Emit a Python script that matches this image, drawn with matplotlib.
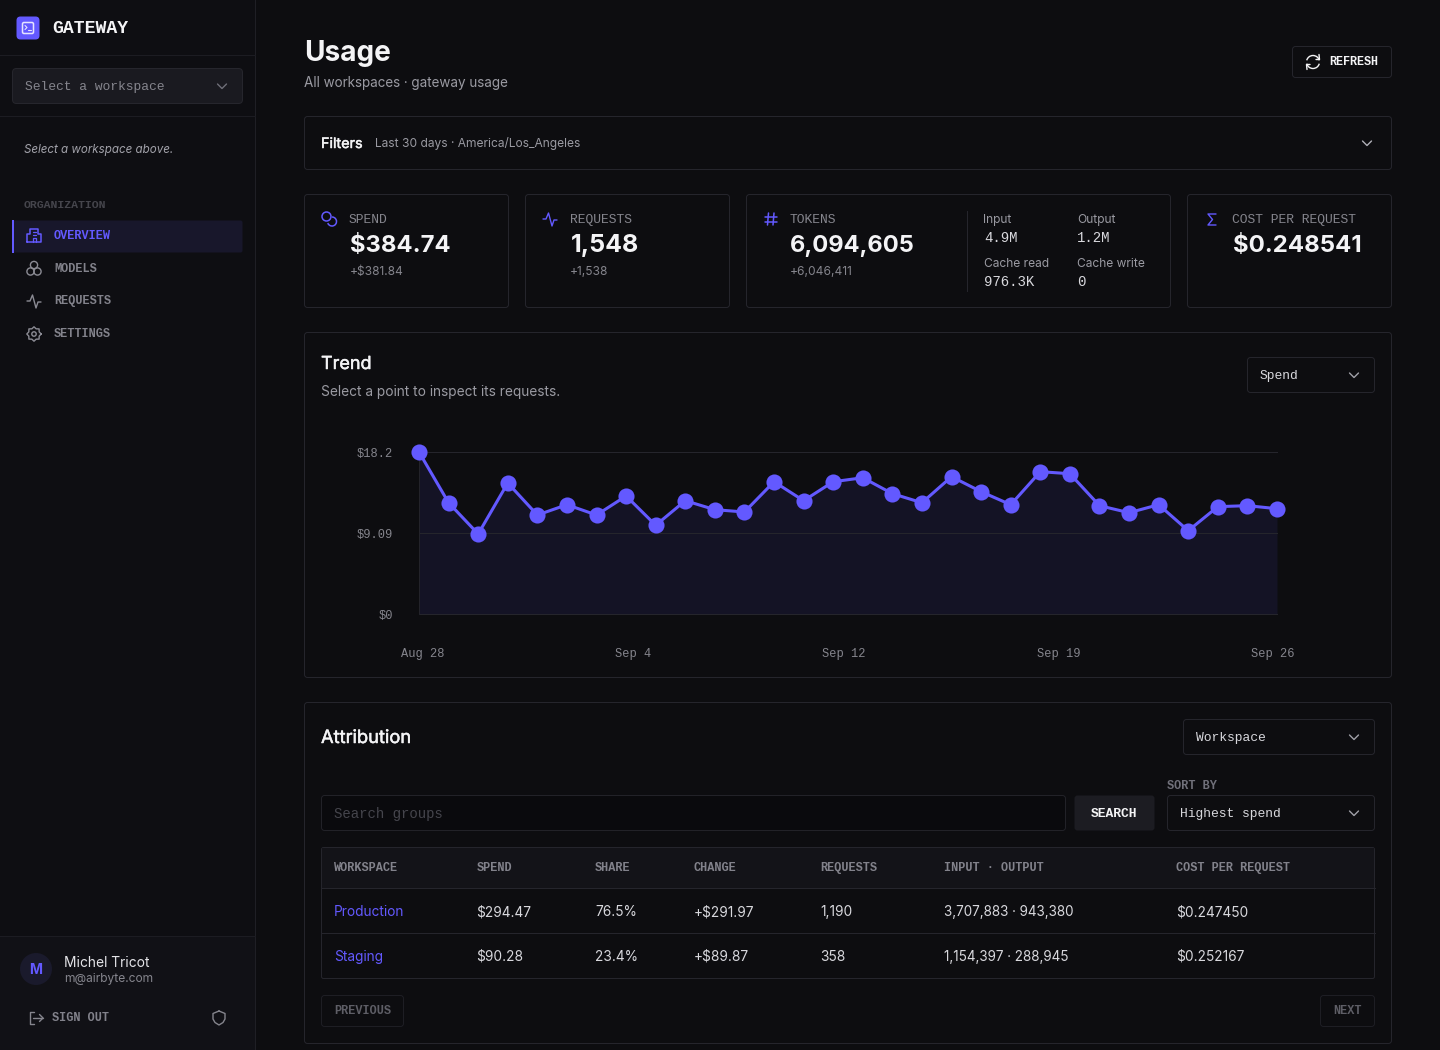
import numpy as np
import matplotlib
matplotlib.use('Agg')
import matplotlib.pyplot as plt
import matplotlib.patheffects as pe
from matplotlib.patches import FancyBboxPatch, Circle, Rectangle, Arc

# daily spend
spend = [18.2, 12.50, 8.99, 14.72, 11.12, 12.28, 11.12, 13.26, 9.97, 12.73,
         11.72, 11.46, 14.86, 12.73, 14.86, 15.31, 13.52, 12.50, 15.43, 13.74,
         12.28, 15.99, 15.76, 12.17, 11.38, 12.28, 9.36, 12.06, 12.17, 11.83]
y_ticks = [0, 9.09, 18.2]
y_labels = ['$0', '$9.09', '$18.2']
x_labels = ['Aug 28', 'Sep 4', 'Sep 12', 'Sep 19', 'Sep 26']

nav_items = ['OVERVIEW', 'MODELS', 'REQUESTS', 'SETTINGS']
table_head = ['WORKSPACE', 'SPEND', 'SHARE', 'CHANGE', 'REQUESTS', 'INPUT · OUTPUT', 'COST PER REQUEST']
row_production = ['Production', '$294.47', '76.5%', '+$291.97', '1,190', '3,707,883 · 943,380', '$0.247450']
row_staging = ['Staging', '$90.28', '23.4%', '+$89.87', '358', '1,154,397 · 288,945', '$0.252167']

BG = '#0d0d10'
SIDE = '#0e0e12'
LINE = '#25252c'
ACCENT = '#6359ff'
WHITE = '#f4f4f6'
TEXT = '#d8d8dd'
MUTED = '#8b8b94'
SANS = 'Inter'
MONO = 'Liberation Mono'

fig = plt.figure(figsize=(14.4, 10.5), dpi=100, facecolor=BG)
ui = fig.add_axes([0, 0, 1, 1])
ui.set_xlim(0, 1440)
ui.set_ylim(1050, 0)
ui.axis('off')


def box(x0, y0, x1, y1, fc=BG, ec=LINE, r=4, lw=0.72):
    # half pixel inset so a 1px border stays crisp
    ui.add_patch(FancyBboxPatch((x0 + 0.5, y0 + 0.5), x1 - x0 - 1, y1 - y0 - 1,
                                boxstyle='round,pad=0,rounding_size=%g' % r, fc=fc, ec=ec, lw=lw))


def txt(x, y, s, px=13.6, color=TEXT, font=SANS, weight='normal', ha='left', style='normal', medium=False):
    t = ui.text(x, y, s, fontsize=px * 0.72, color=color, family=font, weight=weight, ha=ha, va='baseline', style=style)
    if medium:
        t.set_path_effects([pe.withStroke(linewidth=0.35, foreground=color)])


def stroke(xs, ys, color=MUTED, lw=1.0):
    ui.plot(xs, ys, color=color, lw=lw, solid_capstyle='round', solid_joinstyle='round')


def chevron(x, y, color=MUTED):
    stroke([x - 4.5, x, x + 4.5], [y - 2, y + 2.5, y - 2], color)


def pulse(x, y, color, lw=1.0):
    stroke([x - 7, x - 4, x - 1.5, x + 2, x + 4, x + 7], [y, y, y - 6, y + 7, y + 1, y + 1], color, lw)


# sidebar
ui.add_patch(Rectangle((0, 0), 255, 1050, fc=SIDE, ec='none'))
ui.add_patch(Rectangle((0, 936), 255, 114, fc='#111116', ec='none'))
ui.plot([255, 255], [0, 1050], color='#1f1f25', lw=0.72)
for yy in [55, 116, 936]:
    ui.plot([0, 255], [yy, yy], color='#1c1c22', lw=0.72)

box(16, 16, 40, 40, fc=ACCENT, ec='none', r=4)
box(22, 22, 34, 34, fc='none', ec='#e6e4ff', r=1.5, lw=1.1)
stroke([25, 27, 25], [25.5, 27.5, 29.5], '#e6e4ff', 0.8)
stroke([28, 31], [29.5, 29.5], '#e6e4ff', 0.8)
txt(52, 33, 'GATEWAY', 18.2, WHITE, MONO, 'bold')

box(12, 68, 243, 104, fc='#1a1a20', ec='#26262d', r=4)
txt(25, 90, 'Select a workspace', 13, '#85858d', MONO)
chevron(222, 86, '#6f6f78')
txt(24, 153, 'Select a workspace above.', 11.6, '#a2a2aa', SANS, style='italic')
txt(24, 208, 'ORGANIZATION', 11.5, '#45454c', MONO, 'bold')

box(12, 220, 243, 253, fc='#18172b', ec='none', r=2)
ui.add_patch(Rectangle((12, 220), 2, 33, fc=ACCENT, ec='none'))
for name, base in zip(nav_items, [239, 272, 304, 337]):
    txt(54, base, name, 11.9, ACCENT if name == 'OVERVIEW' else '#82828b', MONO, 'bold')

# nav icons
stroke([27, 27, 30, 30, 38, 38, 41, 41, 27], [242, 234, 234, 229, 229, 234, 234, 242, 242], ACCENT, 1.1)
stroke([33, 33, 36, 36], [242, 238, 238, 242], ACCENT, 0.9)
stroke([32.5, 35.5], [232, 232], ACCENT, 0.9)
stroke([32.5, 35.5], [235, 235], ACCENT, 0.9)
for cx, cy in [(34, 265), (30.5, 271.5), (37.5, 271.5)]:
    ui.add_patch(Circle((cx, cy), 3.6, fc='none', ec='#8b8b94', lw=1.0))
pulse(34, 301, '#8b8b94', 1.0)
ui.add_patch(Circle((34, 334), 2.2, fc='none', ec='#8b8b94', lw=1.0))
gear_a = np.radians(np.arange(0, 361, 22.5))
gear_r = np.where(np.arange(17) % 2 == 0, 7.2, 5.6)
stroke(34 + gear_r * np.cos(gear_a), 334 + gear_r * np.sin(gear_a), '#8b8b94', 1.0)

# user block
ui.add_patch(Circle((36, 969), 16, fc='#1a1a2c', ec='none'))
txt(36, 974, 'M', 14, ACCENT, SANS, 'bold', ha='center')
txt(64, 967, 'Michel Tricot', 13.8, '#e4e4e8')
txt(64, 982, 'm@airbyte.com', 12, '#85858d')
stroke([34, 30, 30, 34], [1012, 1012, 1024, 1024], '#85858d', 1.0)
stroke([33, 43], [1018, 1018], '#85858d', 1.0)
stroke([39.5, 43, 39.5], [1014.5, 1018, 1021.5], '#85858d', 1.0)
txt(52, 1021, 'SIGN OUT', 11.9, '#82828b', MONO, 'bold')
stroke([219, 225, 225, 223, 219, 215, 213, 213, 219], [1011, 1013.5, 1019, 1022.5, 1025, 1022.5, 1019, 1013.5, 1011], '#85858d', 1.0)

# header
txt(304.5, 61, 'Usage', 28, WHITE, SANS, 'bold')
txt(304.5, 87, 'All workspaces · gateway usage', 13.5, '#9a9aa2')
box(1292, 46, 1392, 78, fc=BG, r=3)
ui.add_patch(Arc((1313, 62), 13, 13, theta1=195, theta2=345, ec=WHITE, lw=1.0))
ui.add_patch(Arc((1313, 62), 13, 13, theta1=15, theta2=165, ec=WHITE, lw=1.0))
stroke([1319, 1319.5, 1316], [54.5, 59.5, 59.5], WHITE, 1.0)
stroke([1307, 1306.5, 1310], [69.5, 64.5, 64.5], WHITE, 1.0)
txt(1329, 65, 'REFRESH', 11.7, WHITE, MONO, 'bold')

# filters
box(304, 116, 1392, 170, fc=BG, r=3)
txt(321, 148, 'Filters', 14.4, WHITE, SANS, medium=True)
txt(375, 147, 'Last 30 days · America/Los_Angeles', 12, '#9a9aa2')
chevron(1367, 143, '#b0b0b8')

# stat cards
for x0, x1 in [(304, 509), (525, 730), (746, 1171), (1187, 1392)]:
    box(x0, 194, x1, 308, fc=BG, r=3)
txt(349, 223, 'SPEND', 13, '#85858d', MONO)
txt(350, 252, '$384.74', 23.8, WHITE, SANS, 'bold')
txt(349.5, 275, '+$381.84', 12, '#85858d')
txt(570, 223, 'REQUESTS', 13, '#85858d', MONO)
txt(571, 252, '1,548', 25, WHITE, SANS, 'bold')
txt(570, 275, '+1,538', 12, '#85858d')
txt(790, 223, 'TOKENS', 13, '#85858d', MONO)
txt(790, 252, '6,094,605', 23.6, WHITE, SANS, 'bold')
txt(790, 275, '+6,046,411', 12, '#85858d')
txt(1232, 223, 'COST PER REQUEST', 13, '#85858d', MONO)
txt(1233, 252, '$0.248541', 24, WHITE, SANS, 'bold')
ui.plot([967, 967], [211, 291], color=LINE, lw=0.72)
txt(983.5, 223, 'Input', 12, '#9a9aa2')
txt(984, 242, '4.9M', 14, TEXT, MONO)
txt(1077, 223, 'Output', 12, '#9a9aa2')
txt(1077, 242, '1.2M', 14, TEXT, MONO)
txt(983.5, 267, 'Cache read', 12, '#9a9aa2')
txt(984, 286, '976.3K', 14, TEXT, MONO)
txt(1077, 267, 'Cache write', 12, '#9a9aa2')
txt(1077, 286, '0', 14, TEXT, MONO)

# card icons
ui.add_patch(Circle((326.5, 216.5), 4.5, fc='none', ec=ACCENT, lw=1.1))
ui.add_patch(Arc((332, 221.5), 9, 9, theta1=270, theta2=160, ec=ACCENT, lw=1.1))
pulse(550, 219, ACCENT, 1.0)
stroke([768.5, 767.5], [213, 225], ACCENT, 1.1)
stroke([774, 773], [213, 225], ACCENT, 1.1)
stroke([765, 776.5], [216.5, 216.5], ACCENT, 1.1)
stroke([765, 776.5], [221.5, 221.5], ACCENT, 1.1)
stroke([1216, 1208, 1212.5, 1208, 1216], [214, 214, 219.5, 225, 225], ACCENT, 1.0)

# trend card
box(304, 332, 1392, 678, fc=BG, r=3)
txt(321, 369, 'Trend', 18, WHITE, SANS, medium=True)
txt(321, 396, 'Select a point to inspect its requests.', 13.7, '#9a9aa2')
box(1247, 357, 1375, 393, fc=BG, r=3)
txt(1260, 379, 'Spend', 13, TEXT, MONO)
chevron(1354, 375, '#a0a0a8')

# trend chart, y0 at 614 px and y max at 452 px, x from 419 to 1277 px
ax = fig.add_axes([419 / 1440, (1050 - 614) / 1050, 858 / 1440, 162 / 1050])
ax.patch.set_alpha(0)
days = np.arange(len(spend))
ax.set_xlim(0, len(spend) - 1)
ax.set_ylim(0, 18.2)
ax.fill_between(days, spend, 0, color='#141325', lw=0)
for v in y_ticks:
    ax.axhline(v, color='#25252c', lw=0.72, clip_on=False, zorder=2)
ax.plot(days, spend, color=ACCENT, lw=2.2, marker='o', ms=11.6, mew=0, clip_on=False, zorder=5)
for s in ['top', 'right', 'bottom']:
    ax.spines[s].set_visible(False)
ax.spines['left'].set_color('#23232a')
ax.spines['left'].set_linewidth(0.72)
ax.set_xticks([])
ax.set_yticks(y_ticks)
ax.set_yticklabels(y_labels, family=MONO, fontsize=12 * 0.72, color='#85858d')
ax.tick_params(axis='y', length=0, pad=18.5)
for lab, cx in zip(x_labels, [422.5, 633, 844, 1058.5, 1273]):
    txt(cx, 657, lab, 12, '#85858d', MONO, ha='center')

# attribution card
box(304, 702, 1392, 1044, fc=BG, r=3)
txt(321, 743, 'Attribution', 18.3, WHITE, SANS, medium=True)
box(1183, 719, 1375, 755, fc=BG, r=3)
txt(1196, 741, 'Workspace', 13, TEXT, MONO)
chevron(1354, 737, '#a0a0a8')
txt(1167, 789, 'SORT BY', 11.9, '#70707a', MONO, 'bold')
box(321, 795, 1066, 831, fc='#0a0a0d', ec='#222228', r=3)
txt(334, 818, 'Search groups', 14, '#45454c', MONO)
box(1074, 795, 1155, 831, fc='#1c1c22', ec='none', r=3)
txt(1091, 817, 'SEARCH', 13, WHITE, MONO, 'bold')
box(1167, 795, 1375, 831, fc=BG, r=3)
txt(1180, 817, 'Highest spend', 13, TEXT, MONO)
chevron(1354, 813, '#a0a0a8')

# table
box(321, 847, 1375, 979, fc=BG, r=2)
ui.add_patch(Rectangle((322, 848), 1052, 40, fc='#131318', ec='none'))
ui.plot([321, 1375], [888, 888], color=LINE, lw=0.72)
ui.plot([321, 1375], [933, 933], color=LINE, lw=0.72)
col_x = [334, 476.5, 595, 694, 820.5, 944, 1176.5]
for x, head in zip(col_x, table_head):
    txt(x, 871, head, 11.9, '#82828b', MONO, 'bold')
for base, row in [(916, row_production), (961, row_staging)]:
    for i, (x, val) in enumerate(zip(col_x, row)):
        txt(x, base, val, 13.5 if i == 5 else 13.7, ACCENT if i == 0 else TEXT)

box(321, 995, 404, 1027, fc=BG, ec='#1e1e24', r=3)
txt(334, 1014, 'PREVIOUS', 11.9, '#5e5e66', MONO, 'bold')
box(1320, 995, 1375, 1027, fc=BG, ec='#1e1e24', r=3)
txt(1333, 1014, 'NEXT', 11.9, '#5e5e66', MONO, 'bold')

fig.savefig('out.png', dpi=100, facecolor=BG)
